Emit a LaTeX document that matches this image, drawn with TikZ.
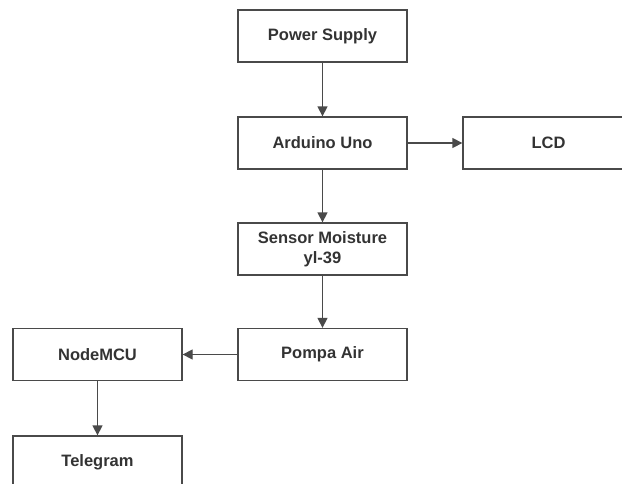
\documentclass[tikz,border=0pt]{standalone}
\usepackage{fontspec}
\setmainfont{Liberation Sans}
\usepackage{tikz}
\usetikzlibrary{arrows.meta}

\definecolor{garis}{HTML}{4A4A4A}
\definecolor{teks}{HTML}{333333}

\begin{document}
\begin{tikzpicture}[x=1pt,y=-1pt,
    blok/.style={draw=garis,line width=1.3pt,fill=white,minimum width=169pt,minimum height=52pt,
        inner sep=0pt,align=center,text=teks,font=\fontsize{16.5}{20}\selectfont\bfseries},
    panah/.style={draw=garis,line width=1.3pt,-{Triangle[length=10pt,width=10pt]}}]
        % Frame of the picture (boxes at the edges are cut off):
        \useasboundingbox (0,0) rectangle (622,483);
        \clip (0,0) rectangle (622,483);

        % Blocks:
        \node [blok] (power)   at (322.5,36)  {Power Supply};
        \node [blok] (arduino) at (322.5,143) {Arduino Uno};
        \node [blok,minimum width=171pt] (lcd) at (548.5,143) {LCD};
        \node [blok] (sensor)  at (322.5,249) {Sensor Moisture\\yl-39};
        \node [blok] (pompa)   at (322.5,354.5) {Pompa Air};
        \node [blok] (nodemcu) at (97.5,354.5) {NodeMCU};
        \node [blok] (telegram) at (97.5,462) {Telegram};

        % Connections:
        \draw [panah] (power) -- (arduino);
        \draw [panah] (arduino) -- (lcd);
        \draw [panah] (arduino) -- (sensor);
        \draw [panah] (sensor) -- (pompa);
        \draw [panah] (pompa) -- (nodemcu);
        \draw [panah] (nodemcu) -- (telegram);
\end{tikzpicture}
\end{document}
